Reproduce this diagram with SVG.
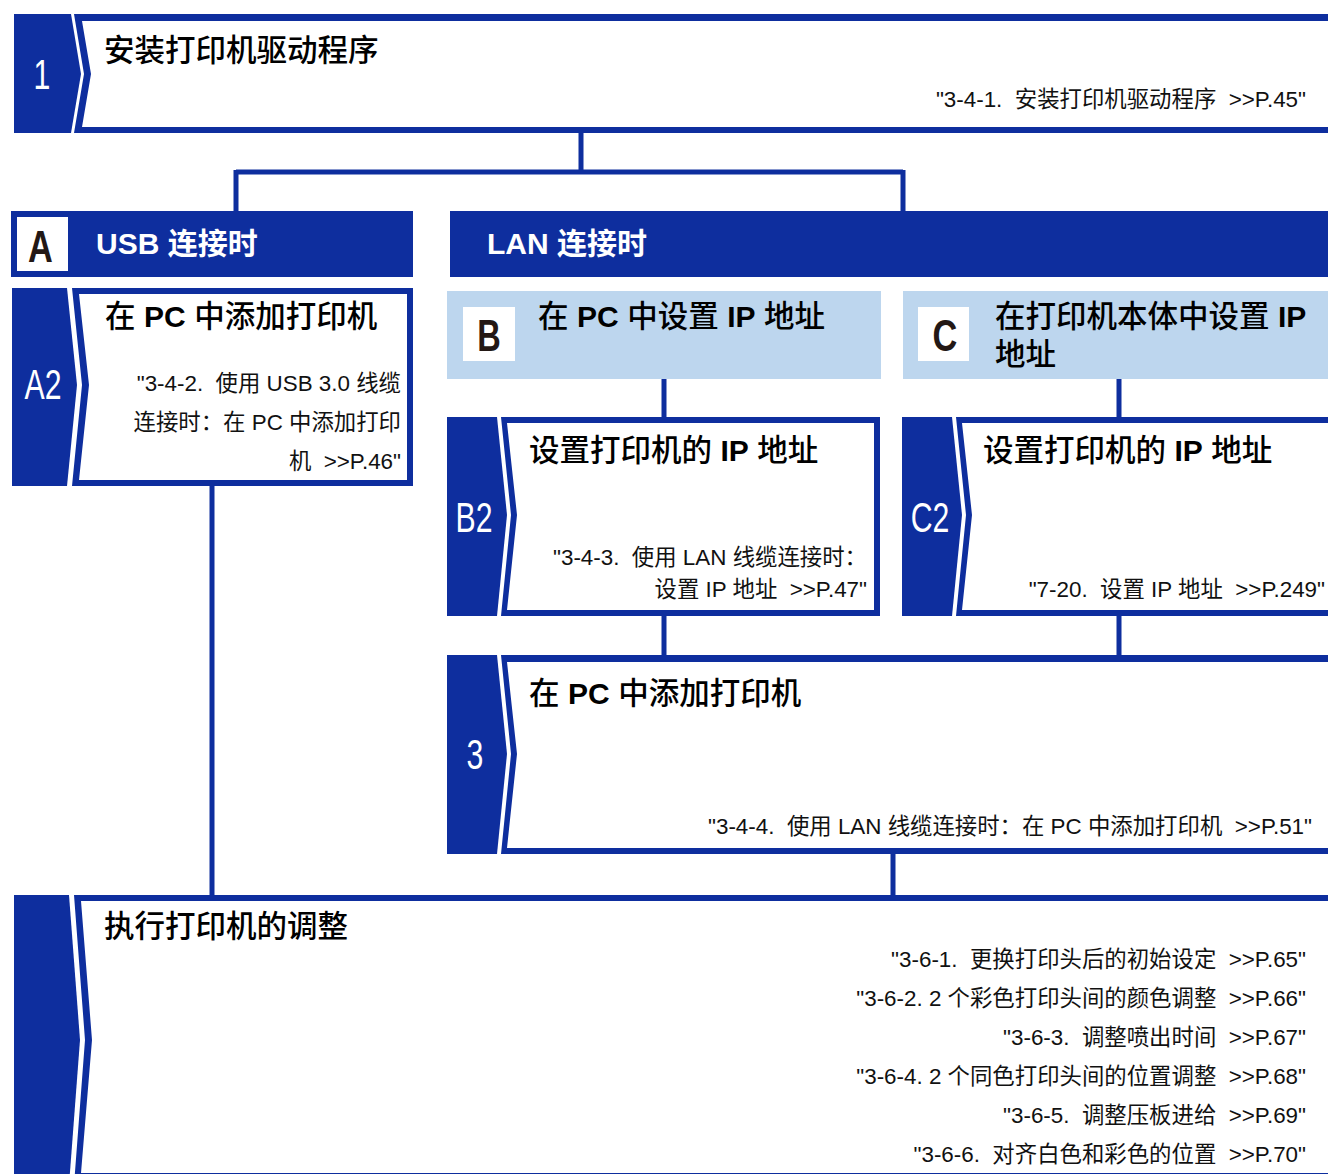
<svg xmlns="http://www.w3.org/2000/svg" width="1328" height="1174" viewBox="0 0 1328 1174">
<style>
text{font-family:"Liberation Sans","Noto Sans CJK SC",sans-serif}
.blue{fill:#0E2E9E}
.white{fill:#FFFFFF}
.light{fill:#BDD6EE}
.t{font-size:30.5px;font-weight:500;fill:#000}
.lb{font-weight:bold;font-size:30px}
.r{font-size:22.4px;fill:#111;text-anchor:end;white-space:pre}
.h{font-size:30px;font-weight:bold;fill:#fff}
.tab{font-size:42px;fill:#fff;text-anchor:middle}
.let{font-size:44px;font-weight:bold;fill:#231815;text-anchor:middle}
.conn{stroke:#0E2E9E;stroke-width:5;fill:none}
</style>
<rect width="1328" height="1174" fill="#fff"/>
<g id="connectors">
<path class="conn" d="M581,133 V172 M236,172 H903 M236,170 V212 M903,170 V212"/>
<path class="conn" d="M664,378 V418 M1119,378 V418"/>
<path class="conn" d="M664,615 V656 M1119,615 V656"/>
<path class="conn" d="M212,485 V896 M893,853 V896"/>
</g>
<g id="node1">
<polygon class="blue" points="14,14 71,14 81,74 71,133 14,133"/>
<polygon class="blue" points="74,14 1340,14 1340,133 74,133 84,74"/>
<polygon class="white" points="82,21 1340,21 1340,127 82,127 91,74"/>
<text class="tab" transform="translate(42,89) scale(0.72,1)">1</text>
<text class="t" x="104" y="61">安装打印机驱动程序</text>
<text class="r" x="1306" y="107" xml:space="preserve">"3-4-1.  安装打印机驱动程序  &gt;&gt;P.45"</text>
</g>
<g id="nodeA">
<rect class="blue" x="11" y="211" width="402" height="66"/>
<rect class="white" x="17" y="217" width="51" height="54"/>
<text class="let" transform="translate(40.5,262) scale(0.78,1)">A</text>
<text class="h" x="96" y="254">USB 连接时</text>
</g>
<g id="nodeLAN">
<rect class="blue" x="450" y="211" width="890" height="66"/>
<text class="h" x="487" y="254">LAN 连接时</text>
</g>
<g id="nodeA2">
<polygon class="blue" points="12,288 67,288 77,385 67,486 12,486"/>
<polygon class="blue" points="72,288 413,288 413,486 72,486 82,385"/>
<polygon class="white" points="79,294 407,294 407,480 79,480 89,385"/>
<text class="tab" transform="translate(43,399) scale(0.72,1)">A2</text>
<text class="t" x="105" y="327">在 <tspan class="lb">PC</tspan> 中添加打印机</text>
<text class="r" x="401" y="391" xml:space="preserve">"3-4-2.  使用 USB 3.0 线缆</text>
<text class="r" x="401" y="430" xml:space="preserve">连接时：在 PC 中添加打印</text>
<text class="r" x="401" y="469" xml:space="preserve">机  &gt;&gt;P.46"</text>
</g>
<g id="nodeB">
<rect class="light" x="447" y="291" width="434" height="88"/>
<rect class="white" x="463" y="307" width="52" height="54"/>
<text class="let" transform="translate(489,351) scale(0.74,1)">B</text>
<text class="t" x="538" y="327">在 <tspan class="lb">PC</tspan> 中设置 <tspan class="lb">IP</tspan> 地址</text>
</g>
<g id="nodeC">
<rect class="light" x="903" y="291" width="437" height="88"/>
<rect class="white" x="918" y="307" width="51" height="54"/>
<text class="let" transform="translate(945,351) scale(0.78,1)">C</text>
<text class="t" x="995" y="327">在打印机本体中设置 <tspan class="lb">IP</tspan></text>
<text class="t" x="995" y="365">地址</text>
</g>
<g id="nodeB2">
<polygon class="blue" points="447,417 497,417 507,515 497,616 447,616"/>
<polygon class="blue" points="501,417 880,417 880,616 501,616 511,515"/>
<polygon class="white" points="507,423 874,423 874,610 507,610 517,515"/>
<text class="tab" transform="translate(474,532) scale(0.72,1)">B2</text>
<text class="t" x="529" y="461">设置打印机的 <tspan class="lb">IP</tspan> 地址</text>
<text class="r" x="867" y="565" xml:space="preserve">"3-4-3.  使用 LAN 线缆连接时：</text>
<text class="r" x="867" y="597" xml:space="preserve">设置 IP 地址  &gt;&gt;P.47"</text>
</g>
<g id="nodeC2">
<polygon class="blue" points="902,417 952,417 962,515 952,616 902,616"/>
<polygon class="blue" points="956,417 1340,417 1340,616 956,616 966,515"/>
<polygon class="white" points="962,423 1340,423 1340,610 962,610 972,515"/>
<text class="tab" transform="translate(930,532) scale(0.72,1)">C2</text>
<text class="t" x="983" y="461">设置打印机的 <tspan class="lb">IP</tspan> 地址</text>
<text class="r" x="1325" y="597" xml:space="preserve">"7-20.  设置 IP 地址  &gt;&gt;P.249"</text>
</g>
<g id="node3">
<polygon class="blue" points="447,655 497,655 507,754 497,854 447,854"/>
<polygon class="blue" points="501,655 1340,655 1340,854 501,854 511,754"/>
<polygon class="white" points="507,662 1340,662 1340,848 507,848 517,754"/>
<text class="tab" transform="translate(475,769) scale(0.72,1)">3</text>
<text class="t" x="529" y="704">在 <tspan class="lb">PC</tspan> 中添加打印机</text>
<text class="r" x="1312" y="834" xml:space="preserve">"3-4-4.  使用 LAN 线缆连接时：在 PC 中添加打印机  &gt;&gt;P.51"</text>
</g>
<g id="node4">
<polygon class="blue" points="14,895 69,895 80,1040 69,1185 14,1185"/>
<polygon class="blue" points="74,895 1340,895 1340,1185 74,1185 85,1040"/>
<polygon class="white" points="81,901 1340,901 1340,1173 81,1173 92,1040"/>
<text class="t" x="104" y="937">执行打印机的调整</text>
<text class="r" x="1306" y="967" xml:space="preserve">"3-6-1.  更换打印头后的初始设定  &gt;&gt;P.65"</text>
<text class="r" x="1306" y="1006" xml:space="preserve">"3-6-2. 2 个彩色打印头间的颜色调整  &gt;&gt;P.66"</text>
<text class="r" x="1306" y="1045" xml:space="preserve">"3-6-3.  调整喷出时间  &gt;&gt;P.67"</text>
<text class="r" x="1306" y="1084" xml:space="preserve">"3-6-4. 2 个同色打印头间的位置调整  &gt;&gt;P.68"</text>
<text class="r" x="1306" y="1123" xml:space="preserve">"3-6-5.  调整压板进给  &gt;&gt;P.69"</text>
<text class="r" x="1306" y="1162" xml:space="preserve">"3-6-6.  对齐白色和彩色的位置  &gt;&gt;P.70"</text>
</g>
</svg>
